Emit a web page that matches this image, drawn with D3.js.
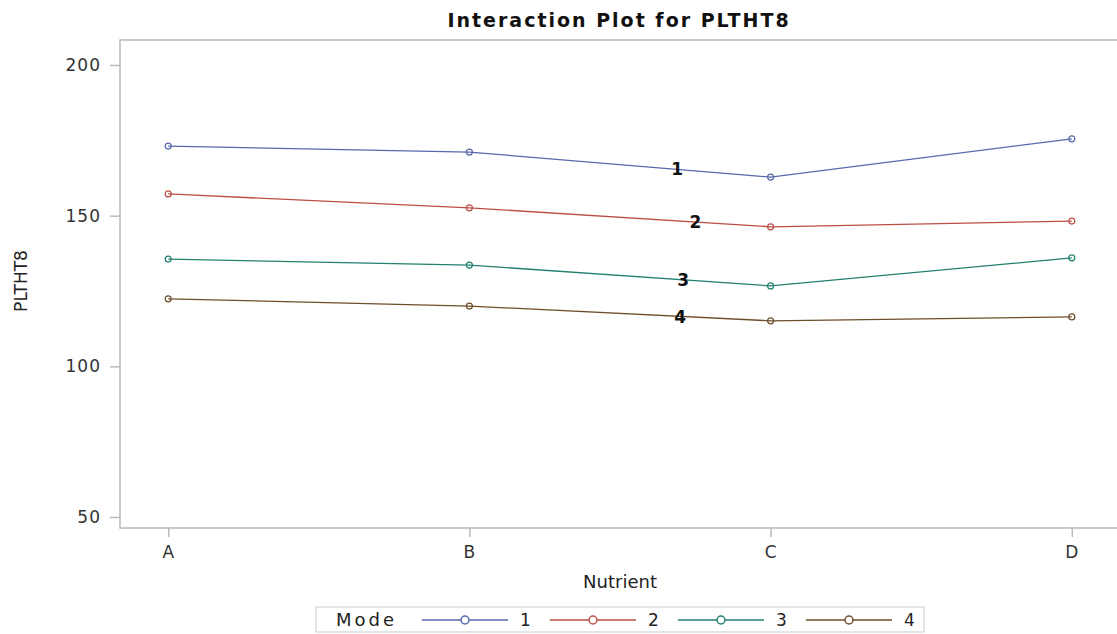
<!DOCTYPE html>
<html>
<head>
<meta charset="utf-8">
<script src="https://d3js.org/d3.v7.min.js"></script>
<style>
  body { margin: 0; background: #fff; }
  text { font-family: "DejaVu Sans", Verdana, sans-serif; }
</style>
</head>
<body>
<div id="chart"></div>
<script>
// Data
//==============================================
var nutrients = ["A", "B", "C", "D"];
var modes = ["1", "2", "3", "4"];
var mode1 = [173.1, 171.1, 162.8, 175.5];
var mode2 = [157.2, 152.6, 146.3, 148.2];
var mode3 = [135.6, 133.6, 126.7, 136.0];
var mode4 = [122.4, 120.0, 115.1, 116.4];
var yTicks = [50, 100, 150, 200];
// where each curve label sits, as a position between nutrient indexes
var labelAt = [1.69, 1.75, 1.71, 1.70];

var seriesValues = [mode1, mode2, mode3, mode4];
var colors = ["#5868ac", "#bb4f45", "#22806f", "#6e4e2a"];

// Set up the chart
//=================================
var svgWidth = 1117;
var svgHeight = 634;
var frame = { left: 120, top: 40, right: 1120, bottom: 528 };

var svg = d3.select("#chart")
  .append("svg")
  .attr("width", svgWidth)
  .attr("height", svgHeight);

svg.append("rect")
  .attr("width", svgWidth)
  .attr("height", svgHeight)
  .attr("fill", "#fff");

var xScale = d3.scalePoint()
  .domain(nutrients)
  .range([frame.left, frame.right])
  .padding(0.16);

var yScale = d3.scaleLinear()
  .domain([50, 200])
  .range([517, 65]);

// index -> pixel, used to place the curve labels between categories
var xIndex = d3.scaleLinear()
  .domain([0, nutrients.length - 1])
  .range([xScale(nutrients[0]), xScale(nutrients[nutrients.length - 1])]);

var axisColor = "#b5bcbf";

// frame
svg.append("rect")
  .attr("x", frame.left)
  .attr("y", frame.top)
  .attr("width", frame.right - frame.left)
  .attr("height", frame.bottom - frame.top)
  .attr("fill", "none")
  .attr("stroke", axisColor)
  .attr("stroke-width", 1.5);

// axes
//=================================
var leftAxis = d3.axisLeft(yScale)
  .tickValues(yTicks)
  .tickSize(10)
  .tickPadding(9);

var bottomAxis = d3.axisBottom(xScale)
  .tickSize(9)
  .tickPadding(9);

var yAxis = svg.append("g")
  .attr("transform", `translate(${frame.left}, 0)`)
  .call(leftAxis);

var xAxis = svg.append("g")
  .attr("transform", `translate(0, ${frame.bottom})`)
  .call(bottomAxis);

[yAxis, xAxis].forEach(function(ax) {
  ax.select(".domain").remove();
  ax.selectAll(".tick line").attr("stroke", axisColor).attr("stroke-width", 1.5);
  ax.selectAll(".tick text")
    .attr("fill", "#333")
    .attr("font-size", "17px")
    .attr("font-family", "'DejaVu Sans', sans-serif")
    .style("letter-spacing", "1px");
});

// axis labels and title
svg.append("text")
  .attr("transform", "translate(27, 281) rotate(-90)")
  .attr("text-anchor", "middle")
  .attr("font-size", "17px")
  .attr("fill", "#222")
  .text("PLTHT8");

svg.append("text")
  .attr("x", 620)
  .attr("y", 588)
  .attr("text-anchor", "middle")
  .attr("font-size", "18px")
  .attr("fill", "#222")
  .text("Nutrient");

svg.append("text")
  .attr("x", 619)
  .attr("y", 27)
  .attr("text-anchor", "middle")
  .attr("font-size", "19px")
  .attr("font-weight", "bold")
  .attr("fill", "#111")
  .style("letter-spacing", "2px")
  .text("Interaction Plot for PLTHT8");

// lines, markers and curve labels
//=================================
var line = d3.line()
  .x(function(d, i) { return xScale(nutrients[i]); })
  .y(function(d) { return yScale(d); });

seriesValues.forEach(function(vals, s) {
  svg.append("path")
    .datum(vals)
    .attr("d", line)
    .attr("fill", "none")
    .attr("stroke", colors[s])
    .attr("stroke-width", 1.3);

  svg.selectAll(".pt" + s)
    .data(vals)
    .enter()
    .append("circle")
    .attr("class", "pt" + s)
    .attr("cx", function(d, i) { return xScale(nutrients[i]); })
    .attr("cy", function(d) { return yScale(d); })
    .attr("r", 3)
    .attr("fill", "none")
    .attr("stroke", colors[s])
    .attr("stroke-width", 1.2);

  // label sits on the segment at labelAt[s]
  var lo = Math.floor(labelAt[s]);
  var t = labelAt[s] - lo;
  var v = vals[lo] + (vals[lo + 1] - vals[lo]) * t;
  svg.append("text")
    .attr("x", xIndex(labelAt[s]))
    .attr("y", yScale(v))
    .attr("dy", "0.36em")
    .attr("text-anchor", "middle")
    .attr("font-size", "17px")
    .attr("font-weight", "bold")
    .attr("fill", "#111")
    .text(modes[s]);
});

// legend
//=================================
var legend = svg.append("g");

legend.append("rect")
  .attr("x", 316)
  .attr("y", 607)
  .attr("width", 608)
  .attr("height", 25)
  .attr("fill", "#fff")
  .attr("stroke", "#cfd2d4")
  .attr("stroke-width", 1.2);

legend.append("text")
  .attr("x", 336)
  .attr("y", 626)
  .attr("font-size", "18px")
  .attr("fill", "#222")
  .style("letter-spacing", "3px")
  .text("Mode");

var entries = legend.selectAll(".entry")
  .data(modes)
  .enter()
  .append("g")
  .attr("class", "entry")
  .attr("transform", function(d, i) { return `translate(${422 + i * 128}, 620)`; });

entries.append("line")
  .attr("x1", 0)
  .attr("x2", 86)
  .attr("stroke", function(d, i) { return colors[i]; })
  .attr("stroke-width", 1.3);

entries.append("circle")
  .attr("cx", 43)
  .attr("r", 4)
  .attr("fill", "#fff")
  .attr("stroke", function(d, i) { return colors[i]; })
  .attr("stroke-width", 1.5);

entries.append("text")
  .attr("x", 98)
  .attr("y", 6)
  .attr("font-size", "17px")
  .attr("fill", "#222")
  .text(function(d) { return d; });
</script>
</body>
</html>
